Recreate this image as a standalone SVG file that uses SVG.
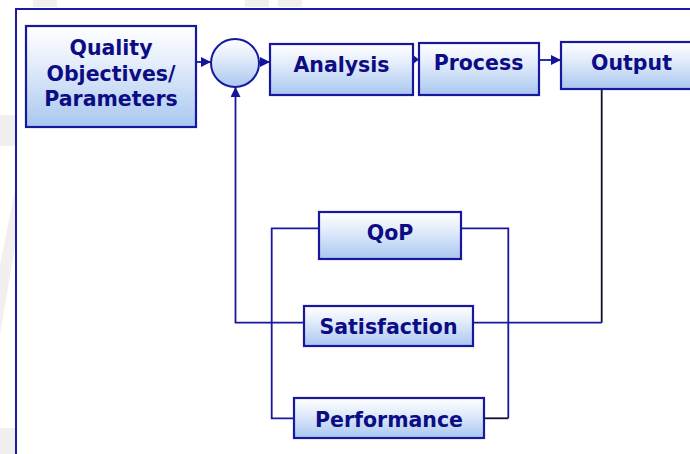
<svg xmlns="http://www.w3.org/2000/svg" width="690" height="454" viewBox="0 0 690 454">
  <defs>
    <linearGradient id="boxFill" x1="0" y1="0" x2="0" y2="1">
      <stop offset="0" stop-color="#ffffff"/>
      <stop offset="0.35" stop-color="#e6eefb"/>
      <stop offset="1" stop-color="#a9c7f0"/>
    </linearGradient>
    <marker id="arrowBig" viewBox="0 0 10 10" refX="10" refY="5" markerWidth="10" markerHeight="10" markerUnits="userSpaceOnUse" orient="auto">
      <path d="M0,0 L10,5 L0,10 z" fill="#14149a"/>
    </marker>
  </defs>
  <style>
    .box { fill: url(#boxFill); stroke: #18189e; stroke-width: 2.2; }
    .label { font-family: "DejaVu Sans", Verdana, sans-serif; font-weight: bold; font-size: 20.5px; fill: #0c0c84; text-anchor: middle; }
    .wire { fill: none; stroke: #18189e; stroke-width: 1.8; }
    .wire-dark { fill: none; stroke: #101030; stroke-width: 1.8; }
    .head { fill: #14149a; }
    .ghost { fill: #f1f0ef; }
  </style>

  <!-- page background with faint watermark fragments -->
  <rect width="690" height="454" fill="#ffffff"/>
  <g id="watermark">
    <rect class="ghost" x="33" y="0" width="24" height="7"/>
    <rect class="ghost" x="245" y="0" width="24" height="7"/>
    <rect class="ghost" x="278" y="0" width="24" height="7"/>
    <rect class="ghost" x="0" y="115" width="15" height="31"/>
    <polygon class="ghost" points="15,190 15,245 0,335 0,265"/>
    <rect class="ghost" x="0" y="428" width="15" height="26"/>
  </g>

  <!-- outer frame -->
  <rect x="16" y="9" width="690" height="460" fill="#ffffff" stroke="#1a1aa8" stroke-width="2"/>

  <!-- nodes -->
  <g id="quality">
    <rect class="box" x="26" y="26" width="170" height="101"/>
    <text class="label" x="111" y="55">Quality</text>
    <text class="label" x="111" y="80.5">Objectives/</text>
    <text class="label" x="111" y="106">Parameters</text>
  </g>
  <g id="junction">
    <circle cx="235" cy="63" r="24" fill="url(#boxFill)" stroke="#18189e" stroke-width="2"/>
  </g>
  <g id="analysis">
    <rect class="box" x="270" y="44" width="143" height="51"/>
    <text class="label" x="341.5" y="71.5">Analysis</text>
  </g>
  <g id="process">
    <rect class="box" x="419" y="43" width="120" height="52"/>
    <text class="label" x="478.5" y="70">Process</text>
  </g>
  <g id="output">
    <rect class="box" x="561" y="42" width="140" height="47"/>
    <text class="label" x="631.5" y="70">Output</text>
  </g>
  <g id="qop">
    <rect class="box" x="319" y="212" width="142" height="47"/>
    <text class="label" x="390" y="240">QoP</text>
  </g>
  <g id="satisfaction">
    <rect class="box" x="304" y="306" width="169" height="40"/>
    <text class="label" x="388.5" y="334">Satisfaction</text>
  </g>
  <g id="performance">
    <rect class="box" x="294" y="398" width="190" height="40"/>
    <text class="label" x="389" y="426.5">Performance</text>
  </g>

  <!-- connectors -->
  <g id="connectors">
    <line class="wire" x1="197" y1="62" x2="211" y2="62" marker-end="url(#arrowBig)"/>
    <line class="wire" x1="259" y1="62" x2="270" y2="62" marker-end="url(#arrowBig)"/>
    <polygon class="head" points="413,55 419,59.5 413,64"/>
    <line class="wire" x1="540" y1="60" x2="561" y2="60" marker-end="url(#arrowBig)"/>
    <!-- feedback from Output through Satisfaction to the summing junction -->
    <line class="wire-dark" x1="601.7" y1="90" x2="601.7" y2="322.7"/>
    <line class="wire" x1="601.7" y1="322.7" x2="474" y2="322.7"/>
    <path class="wire" d="M303,322.7 H235.5 V87" marker-end="url(#arrowBig)"/>
    <!-- bracket linking QoP and Performance -->
    <path class="wire" d="M318,228.3 H271.7 V418.3 H293"/>
    <path class="wire" d="M462,228.3 H508.3 V418.3"/>
    <line class="wire-dark" x1="485" y1="418.3" x2="508.3" y2="418.3"/>
  </g>
</svg>
